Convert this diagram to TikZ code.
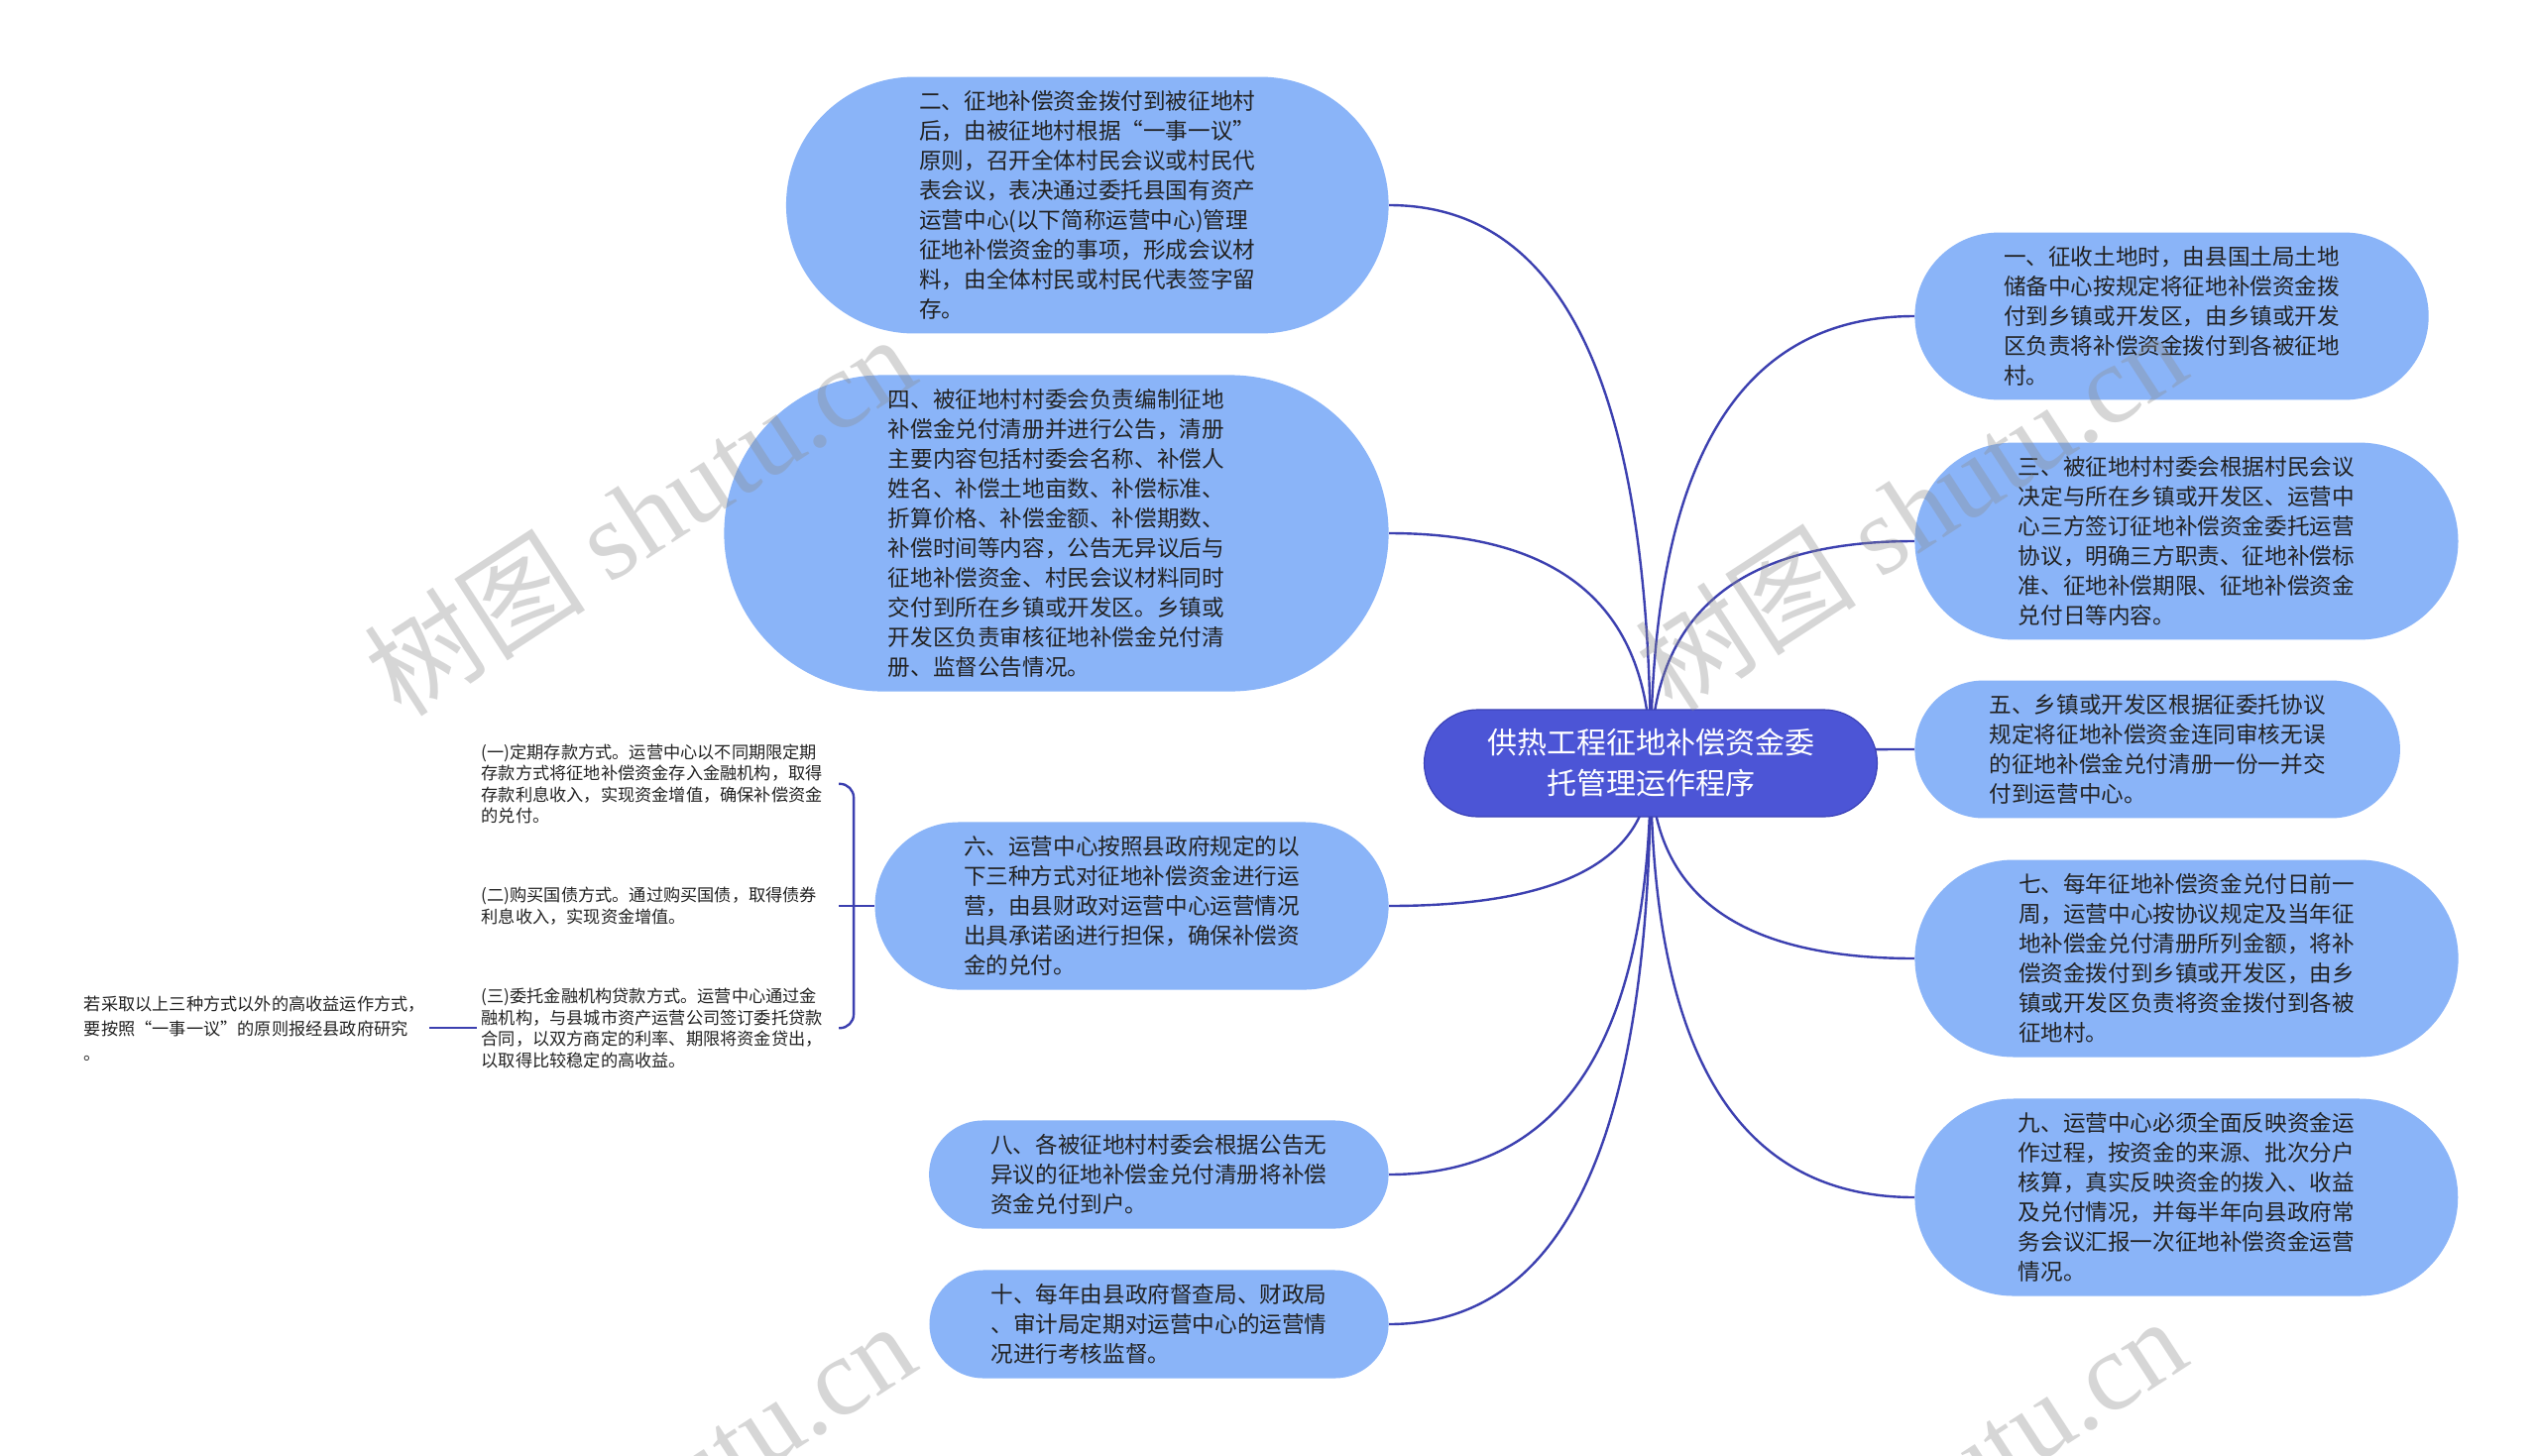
\documentclass[tikz,border=0pt]{standalone}
\usepackage{fontspec}
\setmainfont{Noto Sans CJK SC}
\newfontfamily\markfont{Liberation Serif}
\usetikzlibrary{positioning,calc,backgrounds,shapes.misc}
\definecolor{cHub}{HTML}{4C55D6}
\definecolor{cHubLine}{HTML}{3B42B8}
\definecolor{cTopic}{HTML}{8AB4F8}
\definecolor{cLink}{HTML}{3C40B0}
\definecolor{cText}{HTML}{222222}
\definecolor{cMark}{HTML}{8C8C8C}
\tikzset{
  pill/.style   ={rounded rectangle, align=left, inner xsep=2.5pt, inner ysep=7pt},
  hub/.style    ={pill, align=center, fill=cHub, draw=cHubLine, line width=0.6pt, text=white,
                  font=\fontsize{15pt}{20.5pt}\selectfont, inner xsep=25.5pt, inner ysep=9.75pt},
  topic/.style  ={pill, fill=cTopic, text=cText, font=\fontsize{11.3pt}{15pt}\selectfont},
  leaf/.style   ={align=left, inner sep=2pt, text=cText, font=\fontsize{8.6pt}{10.8pt}\selectfont},
  way/.style    ={leaf, text width=178pt},
  link/.style   ={draw=cLink, line width=1.2pt},
  branch/.style ={to path={.. controls ($(\tikztostart)!.67!(\tikztostart |- \tikztotarget)$)
                  and ($(\tikztotarget)!.67!(\tikztostart |- \tikztotarget)$) .. (\tikztotarget)}},
  wmark/.style  ={text=cMark, opacity=0.35, rotate=33, font=\fontsize{56pt}{56pt}\selectfont},
}
\begin{document}
\begin{tikzpicture}[x=0.5pt, y=-0.5pt, node distance=27.5pt]
\useasboundingbox (0,0) rectangle (2560,1468);

% centre
\node[hub] (hub) at (1665,770) {供热工程征地补偿资金委\\托管理运作程序};

% left side
\node[topic, inner xsep=31.7pt, anchor=east] (n2) at (1401,207)
   {二、征地补偿资金拨付到被征地村\\后，由被征地村根据“一事一议”\\原则，召开全体村民会议或村民代\\表会议，表决通过委托县国有资产\\运营中心(以下简称运营中心)管理\\征地补偿资金的事项，形成会议材\\料，由全体村民或村民代表签字留\\存。};
\node[topic, inner xsep=35.7pt, anchor=east] (n4) at (1401,538)
   {四、被征地村村委会负责编制征地\\补偿金兑付清册并进行公告，清册\\主要内容包括村委会名称、补偿人\\姓名、补偿土地亩数、补偿标准、\\折算价格、补偿金额、补偿期数、\\补偿时间等内容，公告无异议后与\\征地补偿资金、村民会议材料同时\\交付到所在乡镇或开发区。乡镇或\\开发区负责审核征地补偿金兑付清\\册、监督公告情况。};
\node[topic, inner xsep=25.8pt, anchor=east] (n6) at (1401,914)
   {六、运营中心按照县政府规定的以\\下三种方式对征地补偿资金进行运\\营，由县财政对运营中心运营情况\\出具承诺函进行担保，确保补偿资\\金的兑付。};
\node[topic, inner xsep=22.1pt, anchor=east] (n8) at (1401,1185)
   {八、各被征地村村委会根据公告无\\异议的征地补偿金兑付清册将补偿\\资金兑付到户。};
\node[topic, inner xsep=22pt, anchor=east] (n10) at (1401,1336)
   {十、每年由县政府督查局、财政局\\、审计局定期对运营中心的运营情\\况进行考核监督。};

% right side
\node[topic, inner xsep=25.9pt, anchor=west] (n1) at (1931,319)
   {一、征收土地时，由县国土局土地\\储备中心按规定将征地补偿资金拨\\付到乡镇或开发区，由乡镇或开发\\区负责将补偿资金拨付到各被征地\\村。};
\node[topic, inner xsep=28pt, anchor=west] (n3) at (1931,546)
   {三、被征地村村委会根据村民会议\\决定与所在乡镇或开发区、运营中\\心三方签订征地补偿资金委托运营\\协议，明确三方职责、征地补偿标\\准、征地补偿期限、征地补偿资金\\兑付日等内容。};
\node[topic, inner xsep=23.8pt, anchor=west] (n5) at (1931,756)
   {五、乡镇或开发区根据征委托协议\\规定将征地补偿资金连同审核无误\\的征地补偿金兑付清册一份一并交\\付到运营中心。};
\node[topic, inner xsep=28pt, anchor=west] (n7) at (1931,967)
   {七、每年征地补偿资金兑付日前一\\周，运营中心按协议规定及当年征\\地补偿金兑付清册所列金额，将补\\偿资金拨付到乡镇或开发区，由乡\\镇或开发区负责将资金拨付到各被\\征地村。};
\node[topic, inner xsep=27.9pt, anchor=west] (n9) at (1931,1208)
   {九、运营中心必须全面反映资金运\\作过程，按资金的来源、批次分户\\核算，真实反映资金的拨入、收益\\及兑付情况，并每半年向县政府常\\务会议汇报一次征地补偿资金运营\\情况。};

% three ways of operation
\node[way, left=18pt of n6] (m2)
   {(二)购买国债方式。通过购买国债，取得债券\\利息收入，实现资金增值。};
\node[way, above=of m2] (m1)
   {(一)定期存款方式。运营中心以不同期限定期\\存款方式将征地补偿资金存入金融机构，取得\\存款利息收入，实现资金增值，确保补偿资金\\的兑付。};
\node[way, below=of m2] (m3)
   {(三)委托金融机构贷款方式。运营中心通过金\\融机构，与县城市资产运营公司签订委托贷款\\合同，以双方商定的利率、期限将资金贷出，\\以取得比较稳定的高收益。};
\node[leaf, left=24pt of m3, font=\fontsize{8.6pt}{12.5pt}\selectfont] (m4)
   {若采取以上三种方式以外的高收益运作方式，\\要按照“一事一议”的原则报经县政府研究\\。};
\coordinate (fork) at ($(m2.east)+(15,0)$);

\begin{scope}[on background layer]
\fill[white] (0,0) rectangle (2560,1468);
\draw[link] (hub.center) to[branch] (n2.east);
\draw[link] (hub.center) to[branch] (n4.east);
\draw[link] (hub.center) to[branch] (n6.east);
\draw[link] (hub.center) to[branch] (n8.east);
\draw[link] (hub.center) to[branch] (n10.east);
\draw[link] (hub.center) to[branch] (n1.west);
\draw[link] (hub.center) to[branch] (n3.west);
\draw[link] (hub.center) to[branch] (n5.west);
\draw[link] (hub.center) to[branch] (n7.west);
\draw[link] (hub.center) to[branch] (n9.west);
\draw[link, rounded corners=7pt] (m1.east) -| (fork) |- (m3.east);
\draw[link] (m2.east) -- (n6.west);
\draw[link] (m4.east) -- (m3.west);
\end{scope}

% watermark
\node[wmark] (wm1) at (645,519) {树图 {\markfont shutu.cn}};
\node[wmark] (wm2) at (1927,514) {树图 {\markfont shutu.cn}};
\node[wmark] (wm3) at (645,1515) {树图 {\markfont shutu.cn}};
\node[wmark] (wm4) at (1927,1510) {树图 {\markfont shutu.cn}};
\end{tikzpicture}
\end{document}
